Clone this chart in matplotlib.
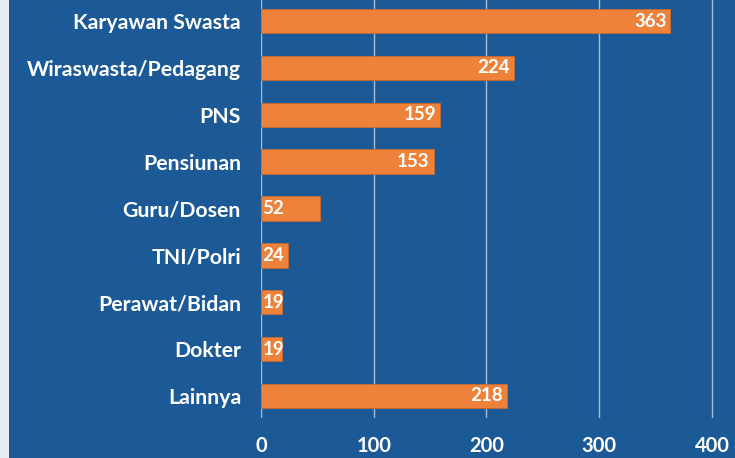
import matplotlib.pyplot as plt
from matplotlib.patches import Rectangle

kategori = ['Karyawan Swasta', 'Wiraswasta/Pedagang', 'PNS', 'Pensiunan',
            'Guru/Dosen', 'TNI/Polri', 'Perawat/Bidan', 'Dokter', 'Lainnya']
jumlah = [363, 224, 159, 153, 52, 24, 19, 19, 218]
xticks = [0, 100, 200, 300, 400]

biru = '#1b5a96'
oranye = '#ef823a'

plt.rcParams['font.family'] = ['Lato', 'DejaVu Sans']
plt.rcParams['font.weight'] = 'bold'

fig = plt.figure(figsize=(7.35, 4.58), dpi=100, facecolor=biru)
fig.patches.append(Rectangle((0, 0), 9 / 735, 1, transform=fig.transFigure,
                             facecolor='#e8ecef', edgecolor='none', zorder=0))

ax = fig.add_axes([261 / 735, 1 - 418 / 458, 474 / 735, 418 / 458])
ax.set_facecolor(biru)

pos = list(range(len(kategori)))
ax.barh(pos, jumlah, height=0.52, color=oranye, edgecolor='#c96a30',
        linewidth=0.6, zorder=3)

for i, v in enumerate(jumlah):
    if v < 100:
        ax.text(1.2, i, str(v), ha='left', va='center', color='white',
                fontsize=13.5, fontweight='bold', zorder=4)
    else:
        ax.text(v - 3.5, i, str(v), ha='right', va='center', color='white',
                fontsize=13.5, fontweight='bold', zorder=4)

ax.set_xlim(0, 420.4)
ax.set_ylim(8.47, -0.45)
ax.set_xticks(xticks)
ax.set_xticklabels([str(t) for t in xticks], fontsize=14.5, color='white')
ax.set_yticks(pos)
ax.set_yticklabels(kategori, fontsize=15.3, color='white')
ax.tick_params(axis='both', length=0)
ax.tick_params(axis='y', pad=14.4)
ax.tick_params(axis='x', pad=13)
ax.grid(axis='x', color='#a9bdd3', linewidth=1, zorder=0)
ax.set_axisbelow(True)
for s in ax.spines.values():
    s.set_visible(False)

fig.savefig('out.png', dpi=100, facecolor=biru)
